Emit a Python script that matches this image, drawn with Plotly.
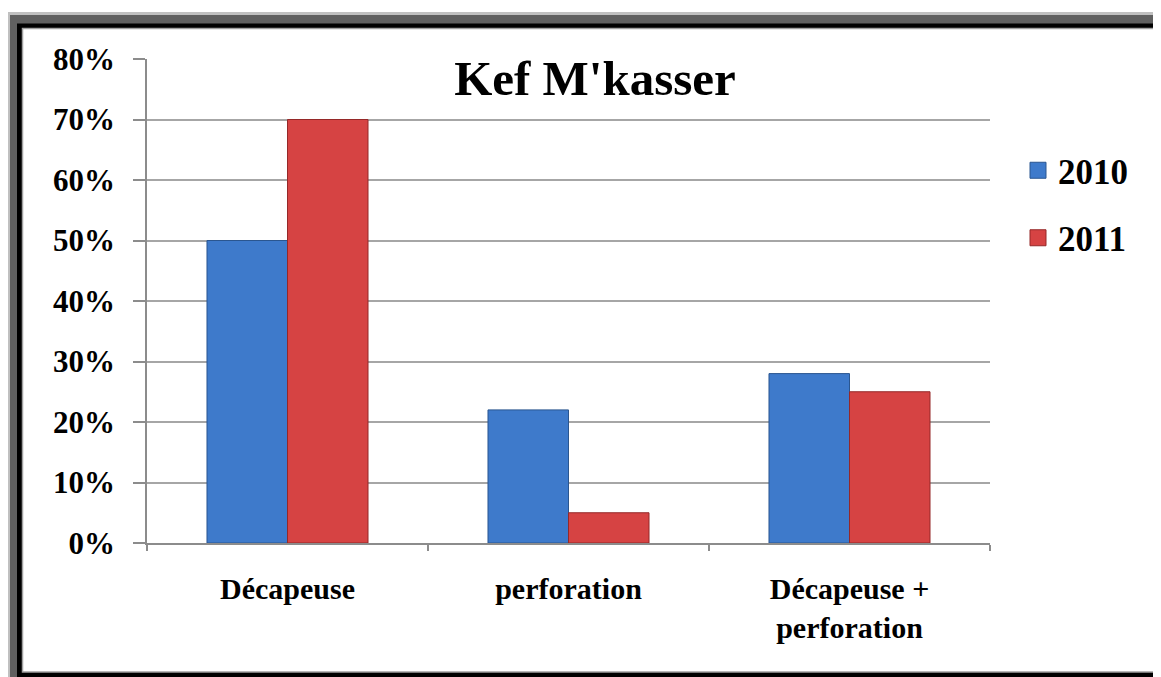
import plotly.graph_objects as go

categories = ["Décapeuse", "perforation", "Décapeuse +<br>perforation"]
series_names = ["2010", "2011"]
values_2010 = [0.50, 0.22, 0.28]
values_2011 = [0.70, 0.05, 0.25]
y_ticks = [0, 0.1, 0.2, 0.3, 0.4, 0.5, 0.6, 0.7, 0.8]
title_text = "Kef M'kasser"

OFF = 8  # page body margin
W, H = 1161 - OFF, 677 - OFF
L, R, T, B = 147 - OFF, 990 - OFF, 59 - OFF, 543 - OFF

def px(x):
    return (x - OFF - L) / (R - L)

def py(y):
    return (B - (y - OFF)) / (B - T)

FONT = dict(family="Liberation Serif, Times New Roman, serif", color="black", weight="bold")
BLUE, BLUE_LINE = "#3e7acb", "#2a5690"
RED, RED_LINE = "#d64343", "#952828"

fig = go.Figure()
for name, vals, col, lc in [(series_names[0], values_2010, BLUE, BLUE_LINE),
                            (series_names[1], values_2011, RED, RED_LINE)]:
    fig.add_trace(go.Bar(x=categories, y=vals, name=name, showlegend=False,
                         marker=dict(color=col, line=dict(color=lc, width=1))))
    fig.add_trace(go.Scatter(x=[None], y=[None], mode="markers", name=name,
                             legendgroup=name,
                             marker=dict(symbol="square", size=18, color=col,
                                         line=dict(color=lc, width=1))))

shapes = [
    dict(type="rect", xref="paper", yref="paper", x0=px(7), x1=px(1170), y0=py(12), y1=py(690),
         fillcolor="#c0c0c0", line=dict(width=0), layer="below"),
    dict(type="rect", xref="paper", yref="paper", x0=px(10), x1=px(1170), y0=py(15), y1=py(690),
         fillcolor="#606060", line=dict(width=0), layer="below"),
    dict(type="rect", xref="paper", yref="paper", x0=px(17), x1=px(1170), y0=py(23.5), y1=py(690),
         fillcolor="#000000", line=dict(width=0), layer="below"),
    dict(type="rect", xref="paper", yref="paper", x0=px(22.5), x1=px(1159.5), y0=py(28.5), y1=py(672),
         fillcolor="#ffffff", line=dict(color="#a0a0a0", width=1.5), layer="below"),
]

fig.update_layout(
    width=W, height=H,
    margin=dict(l=L, r=W - R, t=T, b=H - B, pad=0),
    paper_bgcolor="white",
    plot_bgcolor="rgba(0,0,0,0)",
    barmode="group", bargap=0.427, bargroupgap=0,
    font=FONT,
    title=dict(text=title_text, x=(595 - OFF) / W, xref="container", xanchor="center",
               y=1 - (78 - OFF) / H, yref="container", yanchor="middle",
               font=dict(size=49, **FONT)),
    showlegend=True,
    legend=dict(x=px(1018), xanchor="left", y=py(141), yanchor="top",
                font=dict(size=35, **FONT), traceorder="grouped", tracegroupgap=19,
                bgcolor="rgba(0,0,0,0)"),
    shapes=shapes,
)
fig.update_xaxes(showline=True, linecolor="#8c8c8c", linewidth=1.5,
                 ticks="outside", tickson="boundaries", ticklen=6, tickcolor="#8c8c8c",
                 tickwidth=1.5, tickfont=dict(size=30, **FONT), ticklabelstandoff=18,
                 showgrid=False)
fig.update_yaxes(range=[0, 0.8], tickvals=y_ticks, tickformat=".0%",
                 showline=True, linecolor="#8c8c8c", linewidth=1.5,
                 ticks="outside", ticklen=12, tickcolor="#8c8c8c", tickwidth=1.5,
                 tickfont=dict(size=31, **FONT), ticklabelstandoff=12,
                 showgrid=True, gridcolor="#a6a6a6", gridwidth=1.5, zeroline=False)

fig.write_html("out.html")
